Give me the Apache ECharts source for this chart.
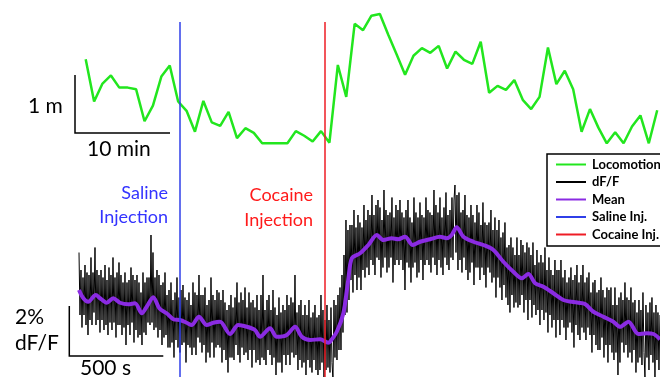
<!DOCTYPE html>
<html>
<head>
<meta charset="utf-8">
<script src="https://cdn.jsdelivr.net/npm/echarts@6/dist/echarts.min.js"></script>
<style>
html,body{margin:0;padding:0;background:#fff;}
#chart{width:660px;height:377px;}
</style>
</head>
<body>
<div id="chart"></div>
<script>
// ---- data ----
const seriesNames = ['Locomotion', 'dF/F', 'Mean', 'Saline Inj.', 'Cocaine Inj.'];
// locomotion distance per bin (m)
const locoStartSec = 35.6;
const locoBinSec = 44.7;
const locomotion = [1.45,0.72,1.03,1.17,0.96,0.96,0.93,0.38,0.65,1.15,1.34,0.72,0.56,0.20,0.73,0.36,0.30,0.54,0.09,0.26,0.18,0,0,0,0,0.21,0.13,0.03,0.21,0.01,1.35,0.80,2.06,1.95,2.20,2.23,1.87,1.53,1.18,1.51,1.64,1.56,1.68,1.29,1.58,1.44,1.37,1.75,0.87,0.99,0.92,1.09,0.75,0.59,0.80,1.65,1.02,1.25,0.93,0.20,0.59,0.27,0,0.19,0,0.29,0.48,0,0.57];
// raw dF/F trace (%), sampled every dffStepSec seconds
const dffStepSec = 5.318;
const dff = [
3.5,1.0,2.8,0.5,2.5,1.0,3.0,0.6,2.7,0.2,
2.6,0.8,3.3,0.6,2.7,1.1,3.7,0.6,2.8,0.8,
2.6,0.3,2.8,0.8,2.5,0.4,3.0,0.6,2.4,0.2,
2.9,0.7,2.6,0.4,3.3,0.7,2.5,0.1,2.7,0.6,
3.1,0.6,2.6,0.2,2.3,0.5,2.7,-0.2,2.3,0.6,
2.4,0.2,2.9,0.7,2.6,-0.1,2.4,0.4,2.6,0.1,
2.3,0.2,1.9,-0.2,2.7,0.3,2.3,0.2,2.5,0.7,
2.5,0.6,4.2,0.7,3.5,0.4,2.5,0.5,2.8,0.1,
2.6,0.4,2.2,-0.2,2.3,0.1,2.7,0.2,1.8,-0.3,
2.0,-0.3,2.3,-0.1,1.6,-0.7,1.9,0.0,2.5,-0.3,
1.7,-0.5,2.0,-0.2,2.2,-0.1,1.7,-0.9,1.6,-0.2,
1.9,-0.3,1.4,-0.6,2.3,-0.3,1.9,-0.6,1.8,0.1,
2.6,-0.1,1.8,-0.5,1.8,-0.2,2.1,-0.9,1.4,-0.5,
1.6,-0.7,2.5,-0.1,1.8,-0.7,1.6,-0.3,2.0,-0.2,
1.9,-0.3,1.6,-0.9,2.0,-0.4,1.5,-0.8,1.2,-1.3,
1.4,-0.7,1.8,-0.7,1.3,-0.8,1.7,-0.2,2.3,-0.6,
1.5,-0.9,1.9,-0.3,1.6,-0.6,2.1,-0.5,1.3,-0.8,
1.9,-0.4,1.5,-1.1,1.6,-0.4,1.3,-0.9,1.8,-0.8,
1.2,-1.0,1.8,-0.7,2.6,-0.8,1.2,-1.0,1.6,-0.4,
1.8,-0.6,1.2,-1.0,2.0,-0.7,1.3,-1.4,1.0,-0.9,
1.7,-0.9,1.1,-1.3,1.4,-0.6,1.2,-1.0,1.8,-0.6,
1.4,-1.0,1.7,-0.5,1.5,-0.7,2.6,-0.6,1.1,-1.2,
1.4,-0.8,1.6,-1.1,1.0,-0.9,1.4,-1.4,1.0,-0.8,
1.6,-1.1,0.9,-1.3,1.1,-0.8,1.4,-1.2,0.9,-1.4,
1.0,-1.2,1.8,-0.9,1.2,-1.5,0.8,-1.2,1.4,-1.1,
0.8,-1.3,1.3,-0.9,-1.6,1.6,-0.7,1.4,-0.8,1.8,
-0.4,2.1,-0.4,2.6,0.3,3.4,1.0,4.8,1.1,4.4,
1.6,4.6,2.4,4.6,1.9,5.2,2.6,4.5,2.0,5.0,
2.5,4.7,2.0,4.5,2.8,5.4,2.5,4.8,2.9,5.2,
2.6,5.0,3.2,5.8,3.0,5.0,2.6,5.4,3.3,5.6,
3.2,5.3,2.5,4.8,2.9,6.0,3.3,5.2,2.7,5.0,
2.9,5.1,3.3,5.7,2.3,4.9,3.0,5.4,3.2,5.2,
3.0,5.6,3.2,5.1,2.8,4.9,2.0,5.2,3.1,5.6,
2.9,4.9,2.3,4.7,2.9,5.7,3.1,5.1,2.5,4.9,
2.7,5.5,3.2,5.0,2.4,4.9,3.0,5.7,3.2,5.2,
3.0,5.1,2.7,5.0,3.3,6.0,3.0,5.4,2.6,5.1,
3.2,5.7,2.9,4.9,2.6,5.3,3.3,5.9,3.0,5.0,
2.8,5.2,3.3,5.7,3.2,5.6,6.2,3.5,5.8,2.8,
5.9,3.2,5.1,2.7,5.2,3.3,5.8,2.8,5.0,2.4,
4.9,2.7,5.4,3.1,5.0,2.2,4.7,2.9,5.4,2.9,
5.1,2.4,4.6,2.9,5.5,2.6,4.7,2.1,4.6,2.9,
4.7,2.7,5.2,2.3,4.4,2.5,4.9,1.7,4.4,2.5,
4.8,2.1,4.1,1.6,4.3,2.2,4.7,1.7,3.7,1.4,
3.8,1.1,4.1,1.8,3.7,1.3,3.4,1.5,4.1,1.3,
3.4,1.4,4.0,1.8,3.8,1.1,3.5,1.6,3.9,0.8,
3.7,1.6,3.4,0.9,3.9,1.4,3.0,1.0,3.6,1.2,
3.1,0.6,3.4,1.2,3.1,0.8,3.7,1.1,2.8,0.3,
3.3,1.0,2.8,0.5,2.6,0.8,3.2,0.1,2.8,0.8,
2.8,0.2,3.2,0.8,2.5,0.5,2.8,0.0,2.3,0.5,
2.5,0.7,2.9,0.3,2.4,-0.3,2.6,0.6,3.0,0.2,
2.3,0.0,2.6,0.5,3.0,0.3,2.3,0.0,2.5,0.5,
2.7,0.2,1.9,-0.5,2.3,0.2,2.4,-0.2,1.9,-0.4,
2.0,-0.4,2.5,0.1,2.0,-0.7,1.7,-0.2,2.1,-0.9,
2.0,-0.2,2.1,-0.5,1.4,-0.8,2.1,-0.5,1.4,-1.4,
1.7,-0.9,1.9,-0.1,1.6,-0.5,2.3,-0.2,1.7,-0.7,
1.6,-0.5,2.1,-0.9,1.5,-0.4,1.6,-1.3,1.1,-0.9,
1.6,-0.7,1.2,-1.0,1.9,-0.5,-1.5,1.4,-0.7,1.1,
-1.2,1.5,-0.6,1.7,-0.9,1.1,-1.5,1.4,-0.8,1.1,
-1.2,1.0];
// smoothed mean trace
const meanTime = [0,23,49,89,112,147,182,218,262,298,334,360,395,427,466,502,537,573,599,638,679,714,750,803,847,892,936,963,1016,1052,1105,1149,1185,1229,1282,1326,1335,1371,1406,1432,1451,1495,1539,1584,1619,1663,1698,1734,1775,1814,1867,1920,1956,1982,2009,2044,2097,2151,2204,2257,2310,2355,2390,2426,2470,2523,2576,2621,2656,2691,2736,2789,2842,2878,2922,2975,3020,3055,3090];
const meanVal = [2.0,1.67,1.53,1.8,1.67,1.49,1.67,1.49,1.43,1.47,1.07,1.33,1.71,1.27,1.07,0.83,0.8,0.69,0.6,0.93,0.6,0.69,0.73,0.24,0.6,0.53,0.4,0.13,0.47,0.13,0.2,0.53,0.13,0,0.03,-0.11,-0.07,0.33,1.07,2.4,3.27,3.47,3.8,4.2,4.0,4.07,4.03,4.13,3.8,3.93,4.03,4.13,4.07,4.2,4.51,4.13,3.93,3.8,3.6,3.13,2.73,2.47,2.64,2.27,2.13,1.87,1.6,1.53,1.49,1.44,1.13,0.93,0.73,0.53,0.73,0.24,0.27,0.24,0.03];
const salineSec = 537;
const cocaineSec = 1309;
const totalSec = 3090;

// ---- chart ----
const chart = echarts.init(document.getElementById('chart'), null, {renderer: 'canvas'});
const FONT = 'Lato, "Open Sans", sans-serif';
const colors = {loco: '#22e61e', dff: '#000000', mean: '#8a2be2', saline: '#2f3fe8', cocaine: '#ee1c25'};

function txt(x, y, s, size, color, align) {
  return {type: 'text', x: x, y: y, style: {text: s, font: size + 'px ' + FONT, fill: color, textAlign: align || 'left', textVerticalAlign: 'middle'}};
}
function bar(points) {
  return {type: 'polyline', shape: {points: points}, style: {stroke: '#000', lineWidth: 1.5, fill: null}};
}

chart.setOption({
  animation: false,
  backgroundColor: '#fff',
  grid: {left: 79, right: 0, top: 22, bottom: 0},
  xAxis: {type: 'value', min: 0, max: totalSec, show: false},
  yAxis: [
    {type: 'value', min: -4.029, max: 2.091, show: false},
    {type: 'value', min: -1.48, max: 12.72, show: false}
  ],
  legend: {
    orient: 'vertical', left: 547, top: 154,
    data: seriesNames,
    itemWidth: 30, itemHeight: 14, itemGap: 4.5,
    padding: [4, 12, 5, 8],
    borderColor: '#000', borderWidth: 1.5, backgroundColor: '#fff',
    lineStyle: {width: 2},
    itemStyle: {opacity: 0},
    textStyle: {fontFamily: FONT, fontWeight: 'bold', fontSize: 13, color: '#000', padding: [0, 0, 0, 1]},
    z: 20
  },
  series: [
    {name: 'dF/F', type: 'line', yAxisIndex: 1, symbol: 'none', color: colors.dff,
     lineStyle: {width: 1, color: colors.dff}, z: 2,
     data: dff.map((v, i) => [i * dffStepSec, v])},
    {name: 'Mean', type: 'line', yAxisIndex: 1, symbol: 'none', color: colors.mean, smooth: 0.3,
     lineStyle: {width: 4, color: colors.mean}, z: 3,
     data: meanTime.map((t, i) => [t, meanVal[i]])},
    {name: 'Locomotion', type: 'line', yAxisIndex: 0, symbol: 'none', color: colors.loco, clip: false,
     lineStyle: {width: 2.5, color: colors.loco}, z: 4,
     data: locomotion.map((v, i) => [locoStartSec + i * locoBinSec, v])},
    {name: 'Saline Inj.', type: 'line', symbol: 'none', color: colors.saline, data: [], z: 5,
     lineStyle: {width: 1.5, color: colors.saline},
     markLine: {silent: true, symbol: 'none', label: {show: false},
       lineStyle: {type: 'solid', width: 1.5, color: colors.saline}, data: [{xAxis: salineSec}]}},
    {name: 'Cocaine Inj.', type: 'line', symbol: 'none', color: colors.cocaine, data: [], z: 5,
     lineStyle: {width: 1.5, color: colors.cocaine},
     markLine: {silent: true, symbol: 'none', label: {show: false},
       lineStyle: {type: 'solid', width: 1.5, color: colors.cocaine}, data: [{xAxis: cocaineSec}]}}
  ],
  graphic: [
    txt(28, 106, '1 m', 21, '#000'),
    bar([[75, 75], [75, 133], [170, 133]]),
    txt(87, 149, '10 min', 21, '#000'),
    txt(168, 193, 'Saline', 18, '#3333ff', 'right'),
    txt(168, 217, 'Injection', 18, '#3333ff', 'right'),
    txt(313, 195, 'Cocaine', 18, '#ff1a1a', 'right'),
    txt(313, 220, 'Injection', 18, '#ff1a1a', 'right'),
    txt(15, 317, '2%', 21, '#000'),
    txt(15, 343, 'dF/F', 21, '#000'),
    bar([[69.3, 306], [69.3, 356], [163.3, 356]]),
    txt(80, 368, '500 s', 21, '#000')
  ]
});
</script>
</body>
</html>
